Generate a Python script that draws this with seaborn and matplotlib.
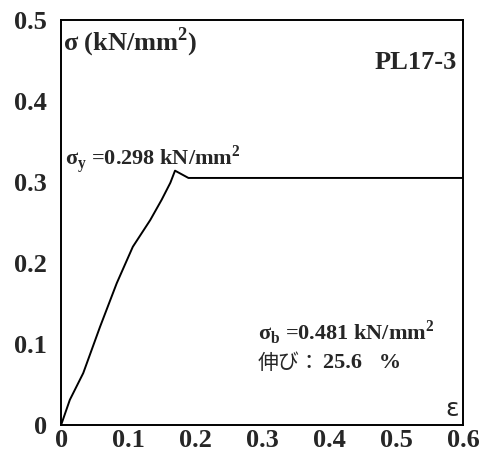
import matplotlib
matplotlib.use("Agg")
import matplotlib.pyplot as plt
import seaborn as sns
import pandas as pd

strain = [0.0, 0.013, 0.033, 0.058, 0.083, 0.107, 0.133, 0.150, 0.163, 0.170, 0.190, 0.25, 0.35, 0.45, 0.55, 0.60]
stress = [0.0, 0.031, 0.064, 0.121, 0.175, 0.220, 0.253, 0.278, 0.299, 0.314, 0.305, 0.305, 0.305, 0.305, 0.305, 0.305]
x_ticks = [0, 0.1, 0.2, 0.3, 0.4, 0.5, 0.6]
x_labels = ["0", "0.1", "0.2", "0.3", "0.4", "0.5", "0.6"]
y_ticks = [0, 0.1, 0.2, 0.3, 0.4, 0.5]
y_labels = ["0", "0.1", "0.2", "0.3", "0.4", "0.5"]

sns.set_style("white")
plt.rcParams['font.family'] = ['Liberation Serif', 'Noto Sans CJK JP', 'DejaVu Sans']
plt.rcParams['font.weight'] = 'bold'
plt.rcParams['mathtext.fontset'] = 'custom'
plt.rcParams['mathtext.bf'] = 'Liberation Serif:bold'
plt.rcParams['mathtext.rm'] = 'Liberation Serif:bold'

df = pd.DataFrame({"strain": strain, "stress": stress})

fig = plt.figure(figsize=(4.85, 4.55), dpi=100)
ax = fig.add_axes([0.126, 0.066, 0.829, 0.890])
sns.lineplot(data=df, x="strain", y="stress", sort=False, color="black", linewidth=1.4, ax=ax)

ax.set_xlim(0, 0.6)
ax.set_ylim(0, 0.5)
ax.set_xticks(x_ticks)
ax.set_xticklabels(x_labels, fontsize=19, fontweight='bold')
ax.set_yticks(y_ticks)
ax.set_yticklabels(y_labels, fontsize=19, fontweight='bold')
ax.tick_params(axis='y', length=0, pad=10)
ax.tick_params(axis='x', length=0, pad=3)
ax.set_xlabel("")
ax.set_ylabel("")
for s in ax.spines.values():
    s.set_color("black")
    s.set_linewidth(1.4)
    s.set_visible(True)

ax.text(0.003, 0.472, r"σ (kN/mm$^{\mathbf{2}}$)", fontsize=19, fontweight='bold', va='center', ha='left')
ax.text(0.59, 0.447, "PL17-3", fontsize=19, fontweight='bold', va='center', ha='right')
ax.text(0.006, 0.327, r"σ$_\mathbf{y}$ =0.298 kN/mm$^{\mathbf{2}}$", fontsize=16, fontweight='bold', va='center', ha='left')
ax.text(0.294, 0.114, r"σ$_\mathbf{b}$ =0.481 kN/mm$^{\mathbf{2}}$", fontsize=16, fontweight='bold', va='center', ha='left')
ax.text(0.294, 0.077, "伸び：", fontsize=15, fontweight='normal', va='center', ha='left',
        family=['Noto Sans CJK JP', 'DejaVu Sans'])
ax.text(0.391, 0.077, "25.6   %", fontsize=16, fontweight='bold', va='center', ha='left')
ax.text(0.594, 0.020, "ε", fontsize=18, fontweight='normal', va='center', ha='right', family=['DejaVu Sans'])

fig.savefig("out.png", dpi=100)
